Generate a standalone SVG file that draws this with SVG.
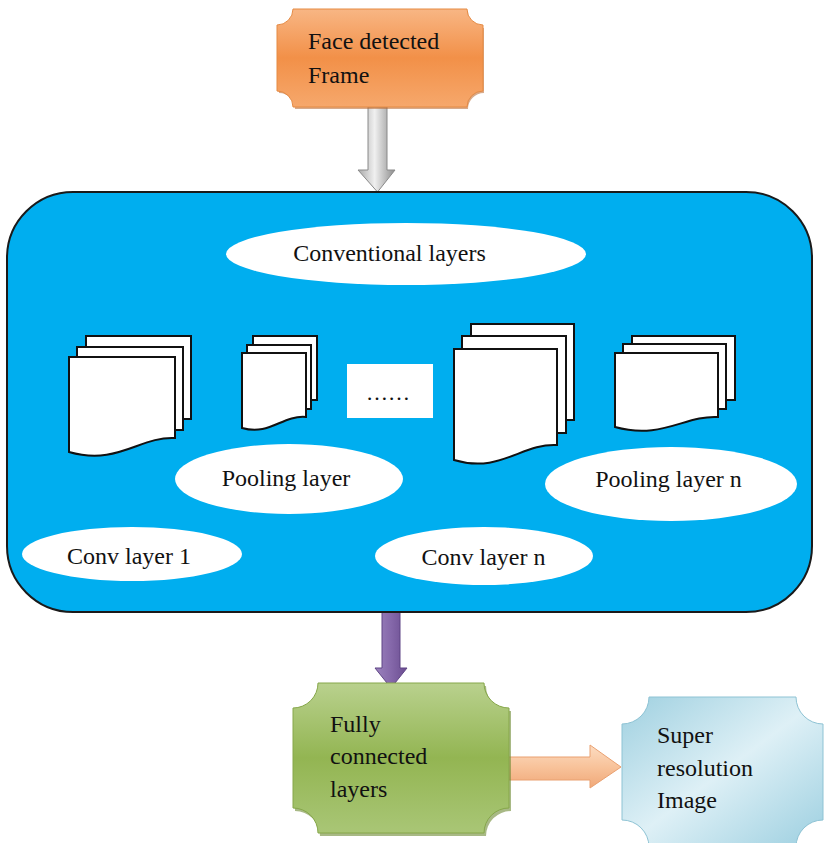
<svg xmlns="http://www.w3.org/2000/svg" width="828" height="843" viewBox="0 0 828 843">
<defs>
<style>
.t{font-family:"Liberation Serif","Times New Roman",serif;font-size:24px;fill:#111}
.m{text-anchor:middle}
.el{fill:#fff}
.pg{fill:#fff;stroke:#111;stroke-width:2}
</style>
<linearGradient id="gOr" x1="0" y1="0" x2="0" y2="1">
<stop offset="0" stop-color="#f8b684"/><stop offset="0.5" stop-color="#f29048"/><stop offset="1" stop-color="#f6a86c"/>
</linearGradient>
<linearGradient id="gGr" x1="0" y1="0" x2="0" y2="1">
<stop offset="0" stop-color="#b9d18e"/><stop offset="0.5" stop-color="#93b552"/><stop offset="1" stop-color="#a9c676"/>
</linearGradient>
<linearGradient id="gBl" x1="0" y1="0" x2="1" y2="1">
<stop offset="0" stop-color="#9fd0e0"/><stop offset="0.5" stop-color="#def0f6"/><stop offset="1" stop-color="#9ccfe0"/>
</linearGradient>
<linearGradient id="gGray" x1="0" y1="0" x2="1" y2="0">
<stop offset="0" stop-color="#a8a8a8"/><stop offset="0.45" stop-color="#f0f0f0"/><stop offset="1" stop-color="#8c8c8c"/>
</linearGradient>
<linearGradient id="gPu" x1="0" y1="0" x2="1" y2="0">
<stop offset="0" stop-color="#9b83bd"/><stop offset="0.5" stop-color="#8568aa"/><stop offset="1" stop-color="#6a4c90"/>
</linearGradient>
<linearGradient id="gPe" x1="0" y1="0" x2="0" y2="1">
<stop offset="0" stop-color="#fcdcc2"/><stop offset="0.5" stop-color="#f8c39b"/><stop offset="1" stop-color="#f0a878"/>
</linearGradient>
</defs>

<g id="connectors">
<path d="M368,107 H387 V170 H395 L377.5,192 L358,170 H368 Z" fill="url(#gGray)" stroke="#8a8a8a" stroke-width="1"/>
<path d="M382,612 H400 V668 H407 L391,688 L375,668 H382 Z" fill="url(#gPu)" stroke="#5f4585" stroke-width="1"/>
<path d="M497,757 H590 V745 L621,767 L590,788 V780 H497 Z" fill="url(#gPe)" stroke="#e9a070" stroke-width="1"/>
</g>

<g id="face-frame">
<path d="M295,12 H468 A16,16 0 0 0 484,28 V93 A16,16 0 0 0 468,109 H295 A16,16 0 0 0 279,93 V28 A16,16 0 0 0 295,12 Z" fill="#b8652a" opacity="0.55"/>
<path d="M293,9 H467 A16,16 0 0 0 483,25 V91 A16,16 0 0 0 467,107 H293 A16,16 0 0 0 277,91 V25 A16,16 0 0 0 293,9 Z" fill="url(#gOr)" stroke="#e58a43" stroke-width="1"/>
<text class="t" x="308" y="49">Face detected</text>
<text class="t" x="308" y="83">Frame</text>
</g>

<g id="cnn-block">
<rect x="7" y="192" width="805" height="420" rx="66" ry="66" fill="#00aeef" stroke="#1a1a1a" stroke-width="2"/>
</g>

<g id="conventional-layers">
<ellipse class="el" cx="406" cy="254" rx="180" ry="31"/>
<text class="t m" x="389.5" y="261">Conventional layers</text>
</g>

<g id="stack-1">
<rect class="pg" x="86" y="336" width="105" height="83"/>
<rect class="pg" x="77" y="347" width="106" height="83"/>
<path class="pg" d="M69,357 H175 V438 C140,436 118,466 69,452 Z"/>
</g>

<g id="stack-2">
<rect class="pg" x="253" y="336" width="64" height="64"/>
<rect class="pg" x="247" y="345" width="64" height="64"/>
<path class="pg" d="M242,353 H306 V417 C282,415 270,436 242,428 Z"/>
</g>

<g id="dots">
<rect x="347" y="364" width="86" height="54" fill="#fff"/>
<text class="t m" x="388" y="400" style="font-size:22px">……</text>
</g>

<g id="stack-3">
<rect class="pg" x="471" y="324" width="103" height="96"/>
<rect class="pg" x="462" y="336" width="104" height="97"/>
<path class="pg" d="M454,349 H557 V445 C522,443 500,474 454,460 Z"/>
</g>

<g id="stack-4">
<rect class="pg" x="632" y="336" width="103" height="64"/>
<rect class="pg" x="623" y="344" width="103" height="65"/>
<path class="pg" d="M615,353 H718 V417 C685,415 662,440 615,427 Z"/>
</g>

<g id="pooling-layer">
<ellipse class="el" cx="289" cy="479" rx="114" ry="35"/>
<text class="t m" x="286" y="486">Pooling layer</text>
</g>

<g id="pooling-layer-n">
<ellipse class="el" cx="671" cy="484" rx="126" ry="37"/>
<text class="t m" x="668.5" y="487">Pooling layer n</text>
</g>

<g id="conv-layer-1">
<ellipse class="el" cx="132" cy="554" rx="110" ry="27"/>
<text class="t m" x="129" y="564">Conv layer 1</text>
</g>

<g id="conv-layer-n">
<ellipse class="el" cx="484" cy="556" rx="109" ry="29"/>
<text class="t m" x="483.5" y="565">Conv layer n</text>
</g>

<g id="fully-connected">
<path d="M320,686 H486 A25,25 0 0 0 511,711 V811 A25,25 0 0 0 486,836 H320 A25,25 0 0 0 295,811 V711 A25,25 0 0 0 320,686 Z" fill="#6e8a34" opacity="0.6"/>
<path d="M318,683 H484 A25,25 0 0 0 509,708 V808 A25,25 0 0 0 484,833 H318 A25,25 0 0 0 293,808 V708 A25,25 0 0 0 318,683 Z" fill="url(#gGr)" stroke="#86a74a" stroke-width="1"/>
<text class="t" x="330" y="732">Fully</text>
<text class="t" x="330" y="764">connected</text>
<text class="t" x="330" y="797">layers</text>
</g>

<g id="super-resolution">
<path d="M649,697 H796 A27,27 0 0 0 823,724 V820 A27,27 0 0 0 796,847 H649 A27,27 0 0 0 622,820 V724 A27,27 0 0 0 649,697 Z" fill="url(#gBl)" stroke="#8ec3d4" stroke-width="1"/>
<text class="t" x="657" y="743">Super</text>
<text class="t" x="657" y="776">resolution</text>
<text class="t" x="657" y="808">Image</text>
</g>
</svg>
